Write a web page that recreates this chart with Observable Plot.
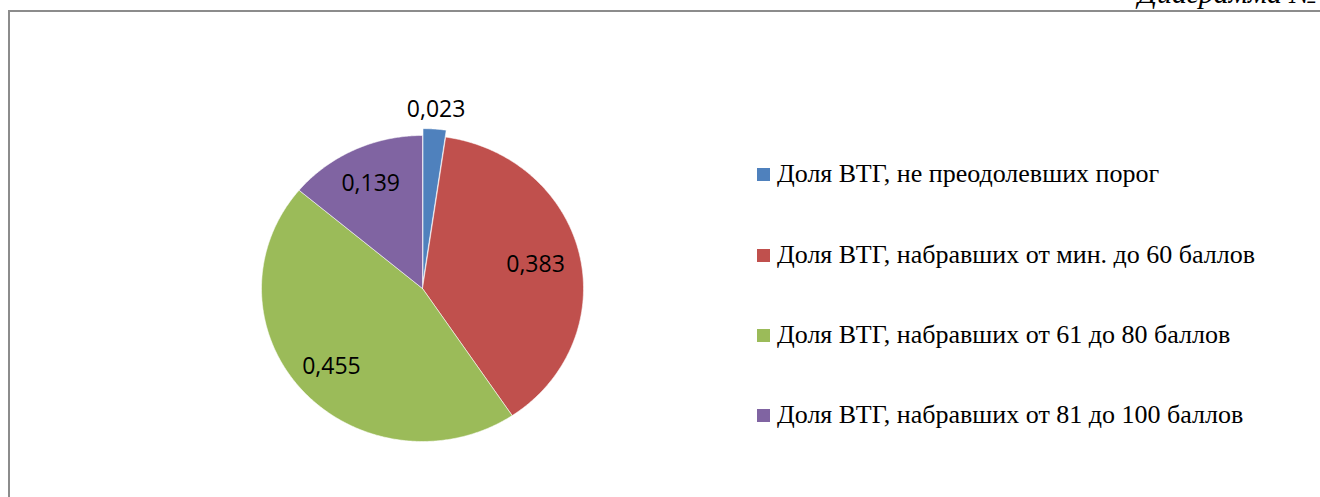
<!DOCTYPE html>
<html>
<head>
<meta charset="utf-8">
<script src="https://cdn.jsdelivr.net/npm/d3@7"></script>
<script src="https://cdn.jsdelivr.net/npm/@observablehq/plot@0.6"></script>
<style>
  html, body { margin: 0; padding: 0; background: #fff; }
  #wrap { position: relative; width: 1320px; height: 497px; overflow: hidden; }
  #frame { position: absolute; left: 8px; top: 10px; width: 1400px; height: 600px; border-left: 2px solid #8c8c8c; border-top: 2px solid #8c8c8c; }
  #title { position: absolute; left: 1138px; top: -24px; font-family: "Liberation Serif", serif; font-style: italic; font-size: 30px; white-space: nowrap; color: #000; }
  #chart { position: absolute; left: 0; top: 0; }
  #legend { position: absolute; left: 757px; top: 0; font-family: "Liberation Serif", serif; font-size: 26px; color: #000; }
  .item { position: absolute; left: 0; white-space: nowrap; display: flex; align-items: center; height: 30px; }
  .sw { width: 13px; height: 13px; margin-right: 7px; }
</style>
</head>
<body>
<div id="wrap">
  <div id="frame"></div>
  <div id="title">Диаграмма №</div>
  <div id="chart"></div>
  <div id="legend"></div>
</div>
<script>
const categories = [
  "Доля ВТГ, не преодолевших порог",
  "Доля ВТГ, набравших от мин. до 60 баллов",
  "Доля ВТГ, набравших от 61 до 80 баллов",
  "Доля ВТГ, набравших от 81 до 100 баллов"
];
const values = [0.023, 0.383, 0.455, 0.139];
const labels = ["0,023", "0,383", "0,455", "0,139"];
const colors = ["#4F81BD", "#C0504D", "#9BBB59", "#8064A2"];
const explode = [0.045, 0, 0, 0];
const labelRadius = [1.17, 0.72, 0.76, 0.76];

// Build slice polygons in unit-circle data space (angle 0 at top, clockwise)
const total = d3.sum(values);
const pts = [];
const labelData = [];
let cum = 0;
values.forEach((v, i) => {
  const a0 = cum / total * 2 * Math.PI;
  const a1 = (cum + v) / total * 2 * Math.PI;
  const am = (a0 + a1) / 2;
  const ox = explode[i] * Math.sin(am), oy = explode[i] * Math.cos(am);
  const n = Math.max(4, Math.ceil((a1 - a0) / (Math.PI / 360)));
  pts.push({cat: categories[i], x: ox, y: oy});
  for (let k = 0; k <= n; k++) {
    const a = a0 + (a1 - a0) * k / n;
    pts.push({cat: categories[i], x: ox + Math.sin(a), y: oy + Math.cos(a)});
  }
  pts.push({cat: categories[i], x: ox, y: oy});
  labelData.push({text: labels[i], x: labelRadius[i] * Math.sin(am), y: labelRadius[i] * Math.cos(am)});
  cum += v;
});

const cx = 422, cy = 288, rx = 161, ry = 153;
const plot = Plot.plot({
  width: 1320,
  height: 497,
  margin: 0,
  style: {background: "transparent", overflow: "visible"},
  x: {domain: [-1, 1], range: [cx - rx, cx + rx], axis: null},
  y: {domain: [1, -1], range: [cy - ry, cy + ry], axis: null},
  color: {domain: categories, range: colors},
  marks: [
    Plot.line(pts, {x: "x", y: "y", z: "cat", fill: "cat", stroke: "#ffffff", strokeWidth: 0.8, strokeOpacity: 0.7, curve: "linear"}),
    Plot.text(labelData, {x: "x", y: "y", text: "text", fontSize: 23, fill: "#000", fontFamily: "Open Sans"})
  ]
});
plot.style.background = "transparent";
document.getElementById("chart").appendChild(plot);

const legend = document.getElementById("legend");
const rowCenters = [174, 255, 335, 415];
categories.forEach((c, i) => {
  const it = document.createElement("div");
  it.className = "item";
  it.style.top = (rowCenters[i] - 15) + "px";
  const sw = document.createElement("span");
  sw.className = "sw";
  sw.style.background = colors[i];
  const tx = document.createElement("span");
  tx.textContent = c;
  it.appendChild(sw);
  it.appendChild(tx);
  legend.appendChild(it);
});
</script>
</body>
</html>
